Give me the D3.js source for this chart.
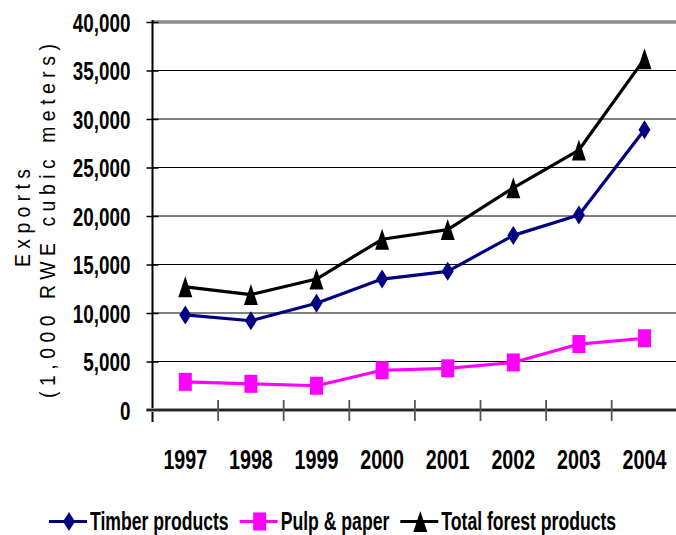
<!DOCTYPE html>
<html>
<head>
<meta charset="utf-8">
<script src="https://cdn.jsdelivr.net/npm/d3@7"></script>
<style>
  html, body { margin: 0; padding: 0; background: #fff; }
  svg { display: block; }
</style>
</head>
<body>
<svg id="chart" width="676" height="535"></svg>
<script>
// ---- data ----
const years = ["1997", "1998", "1999", "2000", "2001", "2002", "2003", "2004"];
const timber = [9800, 9200, 11000, 13500, 14300, 18000, 20100, 28900];
const pulp = [2900, 2700, 2500, 4100, 4300, 4900, 6800, 7400];
const total = [12700, 11900, 13500, 17600, 18600, 22900, 26800, 36200];
const yTicks = [0, 5000, 10000, 15000, 20000, 25000, 30000, 35000, 40000];
const seriesNames = ["Timber products", "Pulp & paper", "Total forest products"];
const yLabel1 = "Exports";
const yLabel2 = "(1,000 RWE cubic meters)";

(function () {
// ---- layout ----
const W = 676;
const plotLeft = 152.5, plotTop = 22, plotBottom = 410, catW = 65.6;
const svg = d3.select("#chart");
const font = "'Liberation Sans', Arial, sans-serif";
const NARROW = 0.82;

const x = d3.scaleBand().domain(years).range([plotLeft, plotLeft + catW * years.length]).paddingInner(0).paddingOuter(0);
const y = d3.scaleLinear().domain([0, 40000]).range([plotBottom, plotTop]);

// marker shapes
const shapes = {
  diamond: (w, h) => `M0,${-h}L${w},0L0,${h}L${-w},0Z`,
  square: (w, h) => `M${-w},${-h}L${w},${-h}L${w},${h}L${-w},${h}Z`,
  triangle: (w, h) => `M0,${-h}L${w},${h}L${-w},${h}Z`
};
const series = [
  { name: seriesNames[0], values: timber, color: "#000080", shape: "diamond", mw: 6, mh: 9.5 },
  { name: seriesNames[1], values: pulp, color: "#FF00FF", shape: "square", mw: 6.5, mh: 9 },
  { name: seriesNames[2], values: total, color: "#000000", shape: "triangle", mw: 7, mh: 10.5 }
];

// gridlines
svg.append("g").selectAll("line").data(yTicks.filter(d => d > 0 && d < 40000)).join("line")
  .attr("x1", plotLeft).attr("x2", W)
  .attr("y1", d => y(d)).attr("y2", d => y(d))
  .attr("stroke", "#000").attr("stroke-width", 1);

// top border (gray)
svg.append("line").attr("x1", plotLeft).attr("x2", W).attr("y1", y(40000)).attr("y2", y(40000))
  .attr("stroke", "#8c8c8c").attr("stroke-width", 3.5);

// y axis
const yAxis = svg.append("g").attr("transform", `translate(${plotLeft},0)`)
  .call(d3.axisLeft(y).tickValues(yTicks).tickFormat(d3.format(",")).tickSize(6));
yAxis.select(".domain").remove();
yAxis.selectAll(".tick line").attr("x1", -6).attr("x2", 6).attr("stroke", "#000").attr("stroke-width", 1.5);
yAxis.selectAll(".tick text")
  .attr("font-family", font).attr("font-weight", "bold").attr("font-size", 23)
  .attr("fill", "#000").attr("x", 0).attr("dy", "0.35em")
  .attr("text-anchor", "end")
  .attr("transform", `translate(-22,0) scale(${NARROW},1.12)`);
svg.append("line").attr("x1", plotLeft).attr("x2", plotLeft).attr("y1", plotTop - 2).attr("y2", plotBottom + 12)
  .attr("stroke", "#000").attr("stroke-width", 2);

// x axis
const xAxisG = svg.append("g").attr("transform", `translate(0,${plotBottom})`);
xAxisG.append("line").attr("x1", plotLeft - 6).attr("x2", W).attr("y1", 0).attr("y2", 0)
  .attr("stroke", "#9a9a9a").attr("stroke-width", 4);
xAxisG.append("line").attr("x1", plotLeft - 6).attr("x2", W).attr("y1", 0).attr("y2", 0)
  .attr("stroke", "#000").attr("stroke-width", 1.5);
const bounds = years.map(d => x(d));
xAxisG.selectAll("line.xt").data(bounds.slice(1)).join("line").attr("class", "xt")
  .attr("x1", d => d).attr("x2", d => d).attr("y1", -10).attr("y2", 11)
  .attr("stroke", "#555").attr("stroke-width", 1.8);
xAxisG.selectAll("text.xl").data(years).join("text").attr("class", "xl")
  .attr("transform", d => `translate(${x(d) + x.bandwidth() / 2},59) scale(${NARROW},1.12)`)
  .attr("text-anchor", "middle")
  .attr("font-family", font).attr("font-weight", "bold").attr("font-size", 24)
  .text(d => d);

// lines + markers
const line = d3.line().x((d, i) => x(years[i]) + x.bandwidth() / 2).y(d => y(d));
series.forEach(s => {
  svg.append("path").datum(s.values).attr("d", line)
    .attr("fill", "none").attr("stroke", s.color).attr("stroke-width", 3.2).attr("stroke-linejoin", "round");
  svg.append("g").selectAll("path").data(s.values).join("path")
    .attr("transform", (d, i) => `translate(${x(years[i]) + x.bandwidth() / 2},${y(d)})`)
    .attr("d", shapes[s.shape](s.mw, s.mh))
    .attr("fill", s.color);
});

// y label
const LN = 0.88;
svg.append("text")
  .attr("transform", `translate(30,218) rotate(-90) scale(${LN},1)`)
  .attr("text-anchor", "middle").attr("font-family", font).attr("font-size", 22)
  .attr("textLength", 98 / LN).attr("lengthAdjust", "spacing")
  .text(yLabel1);
svg.append("text")
  .attr("transform", `translate(54.5,221) rotate(-90) scale(${LN},1)`)
  .attr("text-anchor", "middle").attr("font-family", font).attr("font-size", 22)
  .attr("textLength", 354 / LN).attr("lengthAdjust", "spacing")
  .text(yLabel2);

// legend
const lg = svg.append("g").attr("transform", "translate(49,521.5)");
let cx = 0;
series.forEach(s => {
  const g = lg.append("g").attr("transform", `translate(${cx},0)`);
  g.append("line").attr("x1", 0).attr("x2", 38).attr("y1", 0).attr("y2", 0)
    .attr("stroke", s.color).attr("stroke-width", 3.2);
  g.append("path").attr("transform", "translate(20,0)").attr("d", shapes[s.shape](s.mw, s.mh)).attr("fill", s.color);
  const t = g.append("text")
    .attr("transform", `translate(41,8.5) scale(${NARROW},1.22)`)
    .attr("font-family", font).attr("font-weight", "bold").attr("font-size", 21.5)
    .text(s.name);
  cx += 41 + t.node().getComputedTextLength() * NARROW + 11;
});
})();
</script>
</body>
</html>
